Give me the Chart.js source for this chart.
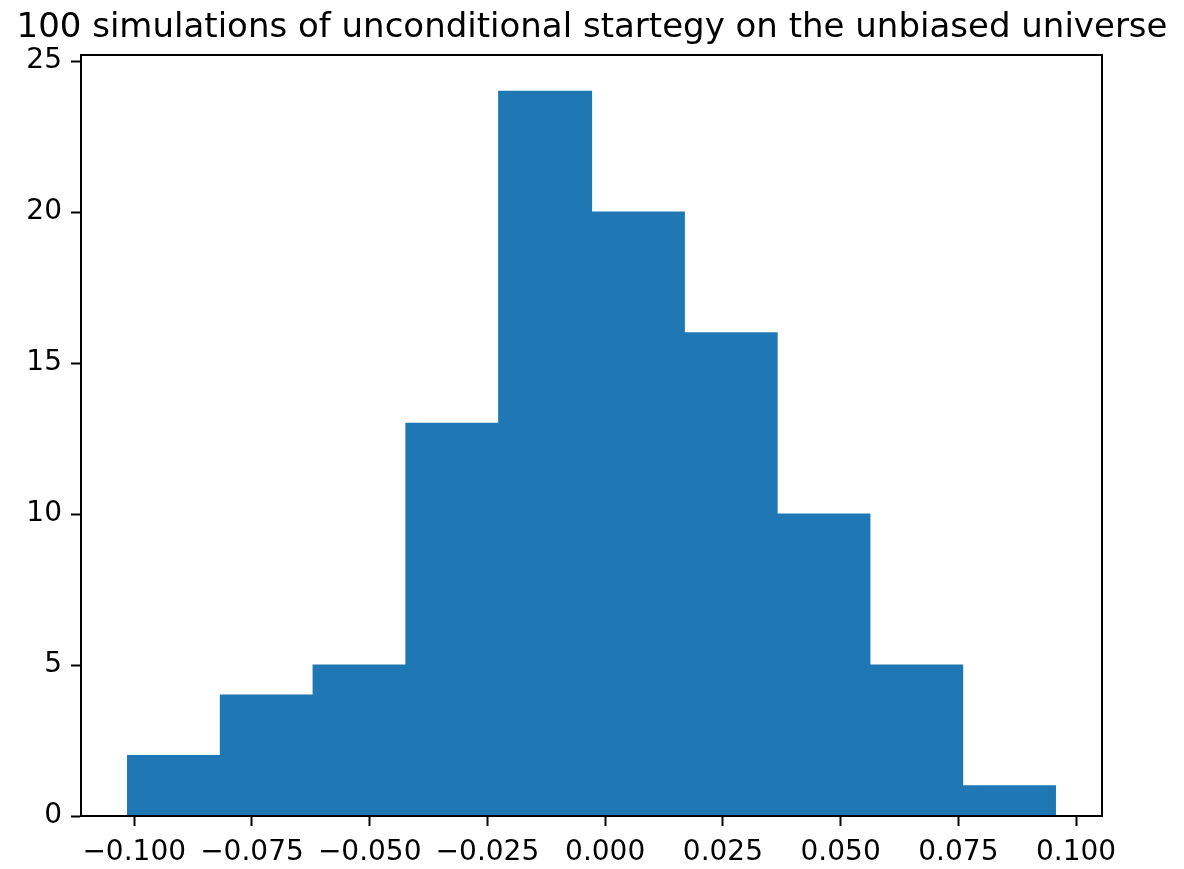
<!DOCTYPE html>
<html>
<head>
<meta charset="utf-8">
<script src="https://cdn.jsdelivr.net/npm/chart.js@4.4.1/dist/chart.umd.min.js"></script>
<style>
  html, body { margin: 0; padding: 0; background: #ffffff; }
  #wrap { width: 1184px; height: 869px; }
</style>
</head>
<body>
<div id="wrap"><canvas id="c" width="1184" height="869"></canvas></div>
<script>
const chartTitle = '100 simulations of unconditional startegy on the unbiased universe';
const binEdges = [-0.1014, -0.0817, -0.0620, -0.0423, -0.0226, -0.0029, 0.0168, 0.0365, 0.0562, 0.0759, 0.0956];
const binCounts = [2, 4, 5, 13, 24, 20, 16, 10, 5, 1];
const xTickValues = [-0.100, -0.075, -0.050, -0.025, 0.000, 0.025, 0.050, 0.075, 0.100];
const xTickLabels = ['\u22120.100', '\u22120.075', '\u22120.050', '\u22120.025', '0.000', '0.025', '0.050', '0.075', '0.100'];
const yTickValues = [0, 5, 10, 15, 20, 25];
const yTickLabels = ['0', '5', '10', '15', '20', '25'];
const xRange = [-0.1113, 0.1055];
const yRange = [0, 25.2];

const barPoints = binCounts.map((c, i) => ({ x: (binEdges[i] + binEdges[i + 1]) / 2, y: c }));

const frame = {
  id: 'frame',
  afterDatasetsDraw(chart) {
    const a = chart.chartArea, ctx = chart.ctx;
    ctx.save();
    ctx.strokeStyle = '#000000';
    ctx.lineWidth = 2;
    ctx.strokeRect(a.left, a.top, a.right - a.left, a.bottom - a.top);
    ctx.restore();
  }
};

const FONT = "'DejaVu Sans', sans-serif";

new Chart(document.getElementById('c'), {
  type: 'bar',
  data: {
    datasets: [{
      data: barPoints,
      backgroundColor: '#1f77b4',
      borderWidth: 0,
      inflateAmount: 0.6,
      barPercentage: 1.0,
      categoryPercentage: 1.0
    }]
  },
  options: {
    responsive: false,
    animation: false,
    devicePixelRatio: 1,
    layout: { padding: { left: 0, right: 0, top: 0, bottom: 0 } },
    plugins: {
      legend: { display: false },
      tooltip: { enabled: false },
      title: {
        display: true,
        text: chartTitle,
        color: '#000000',
        font: { family: FONT, size: 34, weight: 'normal', lineHeight: 1.0 },
        padding: { top: 11, bottom: 10 }
      }
    },
    scales: {
      x: {
        type: 'linear',
        min: xRange[0],
        max: xRange[1],
        offset: false,
        afterBuildTicks(scale) { scale.ticks = xTickValues.map(v => ({ value: v })); },
        afterFit(scale) { scale.height = 53; },
        grid: { display: true, offset: false, drawOnChartArea: false, drawTicks: true, tickLength: 10, tickWidth: 2, tickColor: '#000000' },
        border: { display: true, color: '#000000', width: 2 },
        ticks: {
          color: '#000000',
          padding: 10,
          maxRotation: 0,
          autoSkip: false,
          font: { family: FONT, size: 28 },
          callback(value) {
            const i = xTickValues.findIndex(v => Math.abs(v - value) < 1e-9);
            return i >= 0 ? xTickLabels[i] : '';
          }
        }
      },
      y: {
        type: 'linear',
        position: 'left',
        min: yRange[0],
        max: yRange[1],
        afterBuildTicks(scale) { scale.ticks = yTickValues.map(v => ({ value: v })); },
        afterFit(scale) { scale.width = 81; },
        grid: { display: true, drawOnChartArea: false, drawTicks: true, tickLength: 10, tickWidth: 2, tickColor: '#000000' },
        border: { display: true, color: '#000000', width: 2 },
        ticks: {
          color: '#000000',
          padding: 9,
          autoSkip: false,
          font: { family: FONT, size: 28 },
          callback(value) {
            const i = yTickValues.findIndex(v => Math.abs(v - value) < 1e-9);
            return i >= 0 ? yTickLabels[i] : '';
          }
        }
      },
      yRightSpace: {
        type: 'linear',
        position: 'right',
        display: true,
        min: 0,
        max: 1,
        afterFit(scale) { scale.width = 82; },
        grid: { display: false, drawTicks: false },
        border: { display: false },
        ticks: { display: false }
      }
    }
  },
  plugins: [frame]
});
</script>
</body>
</html>
